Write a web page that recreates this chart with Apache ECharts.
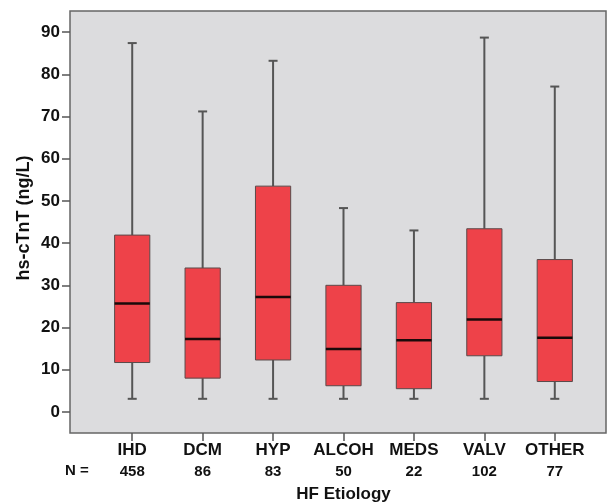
<!DOCTYPE html>
<html>
<head>
<meta charset="utf-8">
<script src="https://cdn.jsdelivr.net/npm/echarts@6/dist/echarts.min.js"></script>
<style>
  html, body { margin: 0; padding: 0; background: #fff; }
  #chart { width: 607px; height: 502px; }
</style>
</head>
<body>
<div id="chart"></div>
<script>
// etiology groups and sample sizes
const categories = ['IHD', 'DCM', 'HYP', 'ALCOH', 'MEDS', 'VALV', 'OTHER'];
const counts = [458, 86, 83, 50, 22, 102, 77];

// box statistics, hs-cTnT (ng/L)
const whiskerLow = [3.1, 3.1, 3.1, 3.1, 3.1, 3.1, 3.1];
const q1 = [11.7, 8.0, 12.3, 6.2, 5.5, 13.3, 7.2];
const median = [25.7, 17.3, 27.2, 14.9, 17.0, 21.9, 17.6];
const q3 = [41.9, 34.1, 53.5, 30.0, 25.9, 43.4, 36.1];
const whiskerHigh = [87.4, 71.2, 83.2, 48.3, 43.0, 88.7, 77.1];

const yTicks = [0, 10, 20, 30, 40, 50, 60, 70, 80, 90];

const font = 'Liberation Sans, Arial, sans-serif';

const boxData = categories.map((c, i) => [i, whiskerLow[i], q1[i], median[i], q3[i], whiskerHigh[i]]);

const chart = echarts.init(document.getElementById('chart'));

function renderBox(params, api) {
  const x = api.value(0);
  const lo = api.coord([x, api.value(1)]);
  const b1 = api.coord([x, api.value(2)]);
  const md = api.coord([x, api.value(3)]);
  const b3 = api.coord([x, api.value(4)]);
  const hi = api.coord([x, api.value(5)]);
  const bw = api.size([1, 0])[0] * 0.5;
  const cx = lo[0];
  const cap = 4.5;
  const wStyle = { stroke: '#555', lineWidth: 2 };
  return {
    type: 'group',
    children: [
      { type: 'line', shape: { x1: cx, y1: lo[1], x2: cx, y2: b1[1] }, style: wStyle },
      { type: 'line', shape: { x1: cx, y1: b3[1], x2: cx, y2: hi[1] }, style: wStyle },
      { type: 'line', shape: { x1: cx - cap, y1: lo[1], x2: cx + cap, y2: lo[1] }, style: wStyle },
      { type: 'line', shape: { x1: cx - cap, y1: hi[1], x2: cx + cap, y2: hi[1] }, style: wStyle },
      {
        type: 'rect',
        shape: { x: cx - bw / 2, y: b3[1], width: bw, height: b1[1] - b3[1] },
        style: { fill: '#ee4249', stroke: '#5a4a4a', lineWidth: 1 }
      },
      {
        type: 'line',
        shape: { x1: cx - bw / 2, y1: md[1], x2: cx + bw / 2, y2: md[1] },
        style: { stroke: '#1a0a0a', lineWidth: 2.5 }
      }
    ]
  };
}

const option = {
  animation: false,
  textStyle: { fontFamily: font },
  grid: { left: 97, right: 17, top: 11, bottom: 69, outerBoundsMode: 'none', containLabel: false },
  graphic: [
    {
      type: 'rect',
      z: -10,
      shape: { x: 70, y: 11, width: 536, height: 422 },
      style: { fill: '#dcdcde', stroke: '#666', lineWidth: 1.5 }
    },
    {
      type: 'text',
      left: 65,
      top: 463,
      style: { text: 'N =', font: 'bold 15px ' + font, fill: '#111' }
    }
  ],
  xAxis: {
    type: 'category',
    data: categories,
    name: 'HF Etiology',
    nameLocation: 'middle',
    nameGap: 53,
    nameMoveOverlap: false,
    nameTextStyle: { fontSize: 17, fontWeight: 'bold', color: '#111' },
    axisLine: { show: false, onZero: false },
    axisTick: { show: true, alignWithLabel: true, interval: 0, length: 8, lineStyle: { color: '#555', width: 1.5 } },
    axisLabel: {
      margin: 7,
      interval: 0,
      formatter: (v, i) => '{a|' + v + '}\n{b|' + counts[i] + '}',
      rich: {
        a: { fontSize: 17, fontWeight: 'bold', color: '#111', lineHeight: 21, fontFamily: font },
        b: { fontSize: 15, fontWeight: 'bold', color: '#111', lineHeight: 21, fontFamily: font }
      }
    },
    splitLine: { show: false }
  },
  yAxis: {
    type: 'value',
    min: -5,
    max: 95,
    offset: 27,
    name: 'hs-cTnT (ng/L)',
    nameLocation: 'middle',
    nameGap: 37,
    nameMoveOverlap: false,
    nameTextStyle: { fontSize: 18, fontWeight: 'bold', color: '#111', padding: [0, 0, 0, 8] },
    axisLine: { show: false },
    axisTick: { show: true, length: 8, customValues: yTicks, lineStyle: { color: '#555', width: 1.5 } },
    axisLabel: { margin: 10, fontSize: 17, fontWeight: 'bold', color: '#111', customValues: yTicks },
    splitLine: { show: false }
  },
  series: [{
    type: 'custom',
    renderItem: renderBox,
    data: boxData,
    encode: { x: 0, y: [1, 2, 3, 4, 5] },
    clip: false
  }]
};

chart.setOption(option);
</script>
</body>
</html>
